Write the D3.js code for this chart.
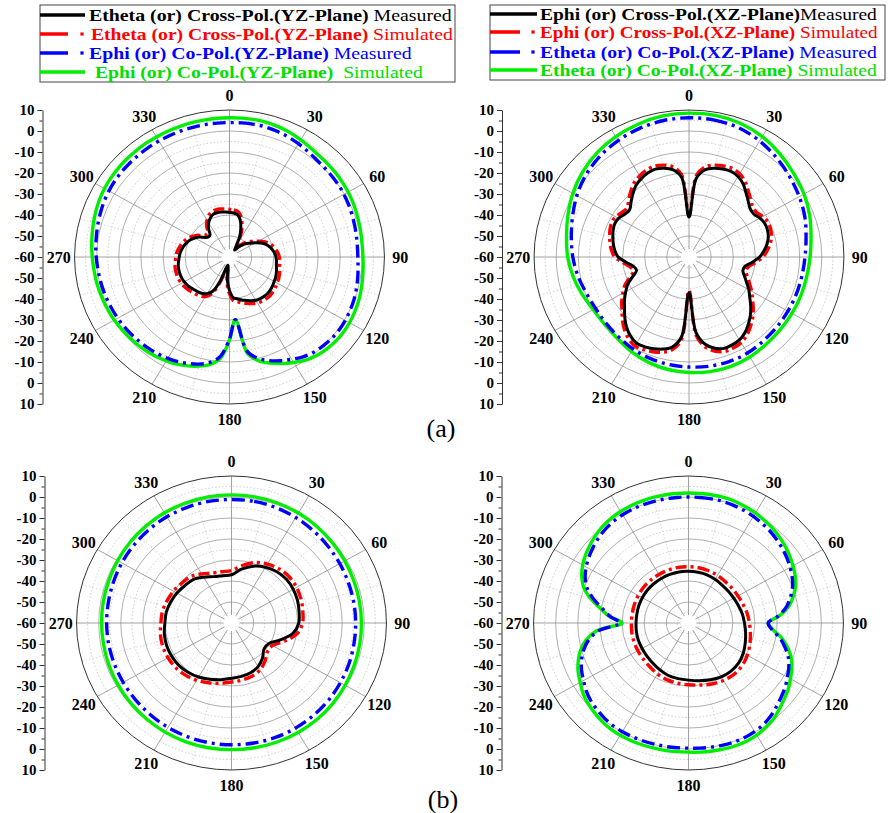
<!DOCTYPE html>
<html>
<head>
<meta charset="utf-8">
<script src="https://cdn.jsdelivr.net/npm/d3@7"></script>
<style>
  body { margin: 0; background: #fff; }
  svg { display: block; }
  text { font-family: "Liberation Serif", "Times New Roman", serif; }
</style>
</head>
<body>
<svg width="890" height="813"></svg>
<script>
// angle labels round each polar plot, and the dB labels on the side axis
const ANGLE_LABELS = [0, 30, 60, 90, 120, 150, 180, 210, 240, 270, 300, 330];
const AXIS_LABELS = ['10', '0', '-10', '-20', '-30', '-40', '-50', '-60', '-50', '-40', '-30', '-20', '-10', '0', '10'];

const LEGEND_A = [
  ['Etheta (or) Cross-Pol.(YZ-Plane)', ' Measured'],
  ['Etheta (or) Cross-Pol.(YZ-Plane)', ' Simulated'],
  ['Ephi (or) Co-Pol.(YZ-Plane)', ' Measured'],
  ['Ephi (or) Co-Pol.(YZ-Plane)', '  Simulated']
];
const LEGEND_B = [
  ['Ephi (or) Cross-Pol.(XZ-Plane)', 'Measured'],
  ['Ephi (or) Cross-Pol.(XZ-Plane)', ' Simulated'],
  ['Etheta (or) Co-Pol.(XZ-Plane)', ' Measured'],
  ['Etheta (or) Co-Pol.(XZ-Plane)', ' Simulated']
];

// values in dB, evenly spaced from 0 deg clockwise (72 values = 5 deg, 36 values = 10 deg)
// (a) YZ plane
const p1Black = [-38.8,-39.0,-39.5,-41.5,-45,-49,-54,-56,-54,-52,-50,-48.5,-46.5,-44.3,-42.5,-41.2,-40.3,-39.5,
  -39,-38.7,-38.5,-38,-37.5,-37,-36.7,-36.2,-35.8,-35.5,-35.6,-35.8,-36.2,-37,-38,-38.8,-39.8,-40.5,
  -44,-49,-56,-55,-48,-42,-39.8,-38.8,-38.2,-37.8,-37.2,-36.7,-36.4,-36.2,-36.2,-36.3,-36.5,-36.9,
  -37.3,-37.6,-38.2,-38.8,-39.6,-40.6,-41.9,-43.5,-45.5,-46.5,-46.3,-43.5,-41.2,-39.5,-38.4,-38.2,-38.3,-38.5];
const p1Red = [-37.3,-37.5,-38,-40,-43.5,-47.5,-52.5,-55,-53,-50.5,-48.5,-47,-45,-42.8,-41,-39.7,-38.8,-38,
  -37.5,-37.2,-37,-36.5,-36,-35.5,-35.2,-34.7,-34.3,-34,-34.1,-34.3,-34.7,-35.5,-36.5,-37.3,-38.3,-39,
  -42.5,-47.5,-55,-54,-46.5,-40.5,-38.3,-37.3,-36.7,-36.3,-35.7,-35.2,-34.9,-34.7,-34.7,-34.8,-35,-35.4,
  -35.8,-36.1,-36.7,-37.3,-38.1,-39.1,-40.4,-42,-44,-45,-44.8,-42,-39.7,-38,-36.9,-36.7,-36.8,-37];
const p1Blue = [4.0,4.1,4.1,4.0,3.6,3.0,2.3,1.5,0.8,0.4,0.2,0.0,-0.3,-0.7,-1.1,-1.5,-1.8,-2.0,
  -2.0,-1.7,-1.2,-0.7,-0.2,0.1,0.4,0.5,0.3,-0.2,-0.8,-2.0,-3.8,-5.5,-7.5,-10,-14.5,-30,
  -21,-12.5,-9.0,-7.2,-6.0,-5.0,-4.3,-3.7,-3.2,-2.8,-2.4,-2.0,-1.7,-1.4,-1.1,-0.8,-0.5,-0.2,
  0.2,0.6,1.0,1.5,2.0,2.5,2.9,3.2,3.4,3.5,3.6,3.7,3.8,3.8,3.9,3.9,4.0,4.0];
const p1Green = [6.3,6.4,6.4,6.2,5.8,5.2,4.4,3.6,3.0,2.7,2.5,2.2,1.9,1.5,1.1,0.7,0.4,0.2,
  0.3,0.6,1.0,1.5,2.0,2.3,2.6,2.7,2.5,2.0,1.3,0.0,-2.0,-4.0,-6.2,-8.8,-13.5,-30,
  -20.5,-11.5,-8.0,-6.2,-4.8,-3.7,-2.9,-2.2,-1.6,-1.1,-0.7,-0.3,0.1,0.4,0.7,1.0,1.3,1.6,
  2.0,2.5,3.0,3.6,4.2,4.8,5.2,5.5,5.7,5.8,5.9,6.0,6.0,6.1,6.1,6.2,6.2,6.3];

// (a) XZ plane
const p2Black = [-41,-22.5,-17.8,-16.2,-15.4,-15,-15.7,-17.4,-20,-22.2,-24,-24.3,-23,-22.2,-22.3,-22.9,-24.2,-26,
  -28.1,-31.3,-34.3,-34.8,-33.3,-31.3,-28.8,-26.5,-23.6,-20.8,-18.3,-16,-14.4,-13.8,-13.7,-15,-17.8,-24,
  -43,-22,-16.5,-14.6,-13.5,-12.8,-12.6,-14,-16.2,-19,-22,-24.4,-27,-29.5,-33,-35.5,-34.5,-31.5,
  -28,-26.4,-25.3,-24.4,-23.5,-22.9,-23.2,-24.5,-25,-23,-20.6,-18.3,-16.9,-15.9,-15.5,-16.2,-17.8,-22];
const p2Red = [-40,-21,-16.3,-14.7,-13.9,-13.5,-14.2,-15.9,-18.5,-20.7,-22.5,-22.8,-21.5,-20.7,-20.8,-21.4,-22.7,-24.5,
  -26.6,-29.8,-32.8,-33.3,-31.8,-29.8,-27.3,-25,-22.1,-19.3,-16.8,-14.5,-12.9,-12.3,-12.2,-13.5,-16.3,-22.5,
  -44,-20.5,-15,-13.1,-12,-11.3,-11.1,-12.5,-14.7,-17.5,-20.5,-22.9,-25.5,-28,-31.5,-34,-33,-30,
  -26.5,-24.9,-23.8,-22.9,-22,-21.4,-21.7,-23,-23.5,-21.5,-19.1,-16.8,-15.4,-14.4,-14,-14.7,-16.3,-20.5];
const p2Blue = [6.3,6.2,5.5,3.8,1.6,-0.6,-2.5,-4.3,-6.3,-7.6,-8.2,-8.4,-8.4,-8.2,-7.8,-7.2,-7.0,-7.2,
  -7.6,-8.0,-8.6,-9.4,-10.4,-11.0,-11.2,-10.5,-9.0,-7.5,-6.0,-4.0,-1.5,0.8,2.6,4.0,5.2,6.0];
const p2Green = [8.5,8.5,7.8,6.2,4.0,1.8,0.0,-2.0,-4.0,-5.3,-6.0,-6.2,-6.3,-6.2,-5.8,-5.0,-4.6,-4.6,
  -5.0,-5.6,-6.6,-8.0,-9.5,-10.2,-10.0,-8.5,-6.8,-5.2,-3.8,-1.8,0.6,2.8,4.7,6.2,7.3,8.2];

// (b) YZ plane
const p3Black = [-37,-34,-31.2,-29.3,-28.1,-27.6,-27.8,-28.3,-29,-29.6,-31.8,-36.5,-40.5,-40.8,-38.2,-36,-34.8,-34.2,
  -33.7,-32.6,-31.5,-30.3,-29.4,-28.8,-28.7,-28.8,-29.2,-29.9,-30.1,-30.8,-31.5,-32.4,-33,-34.8,-36.5,-37.1];
const p3Red = [-35,-32.2,-29.4,-27.6,-26.4,-25.9,-26.1,-26.6,-27.3,-27.9,-30,-34.6,-38.6,-38.8,-36.4,-34.2,-33,-32.4,
  -31.9,-30.8,-29.7,-28.5,-27.6,-27,-26.9,-27,-27.4,-28.1,-28.3,-29,-29.7,-30.6,-31.2,-33,-34.7,-35.2];
const p3Blue = [-1.2,-1.2,-1.5,-2.0,-2.6,-3.1,-3.5,-3.8,-3.9,-3.9,-3.8,-3.5,-3.2,-2.8,-2.5,-2.2,-2.0,-2.0,
  -2.0,-2.1,-2.3,-2.6,-3.0,-3.3,-3.5,-3.6,-3.6,-3.6,-3.5,-3.2,-2.8,-2.4,-2.0,-1.6,-1.4,-1.2];
const p3Green = [1.0,1.0,0.8,0.5,0.0,-0.5,-0.9,-1.2,-1.3,-1.3,-1.2,-1.0,-0.7,-0.3,0.0,0.2,0.3,0.3,
  0.3,0.3,0.2,0.0,-0.3,-0.6,-0.9,-1.1,-1.3,-1.3,-1.2,-1.0,-0.6,-0.2,0.2,0.6,0.8,1.0];

// (b) XZ plane
const p4Black = [-35.4,-35.5,-35.6,-36,-36.4,-36.5,-36.4,-36,-35.3,-34.7,-33.8,-32.7,-31.4,-30.4,-30.1,-30.4,-31.2,-32.1,
  -32.8,-33.1,-33.4,-34.2,-35,-35.5,-35.8,-35.9,-36.1,-36.3,-36.3,-36.1,-35.9,-35.7,-35.6,-35.5,-35.4,-35.3];
const p4Red = [-33.2,-33.3,-33.5,-33.8,-34.2,-34.3,-34.2,-33.8,-33.1,-32.5,-31.6,-30.5,-29.3,-28.4,-28.1,-28.4,-29.1,-30,
  -30.6,-30.9,-31.3,-32,-32.8,-33.3,-33.6,-33.8,-34,-34.2,-34.2,-34,-33.8,-33.5,-33.4,-33.3,-33.2,-33.1];
const p4Blue = [0.0,0.0,0.0,-0.1,-0.4,-0.8,-1.4,-2.1,-2.8,-3.7,-4.7,-5.8,-7.0,-8.3,-10,-12.3,-15,-19,
  -24,-22,-18,-14.8,-12,-10,-8.4,-6.7,-5.3,-3.8,-2.2,-1.0,-0.3,0.2,0.3,0.2,0.0,-0.2,
  -0.4,-0.4,-0.3,-0.3,-0.2,-0.2,-0.2,-0.4,-0.9,-1.6,-2.4,-3.6,-5.2,-6.7,-8.6,-11,-14.3,-19.5,
  -29,-24.5,-20.5,-15.5,-11.2,-8.5,-6.6,-5.1,-3.8,-2.6,-1.6,-0.9,-0.5,-0.2,-0.1,0.0,0.0,0.0];
const p4Green = [1.9,1.9,1.9,1.9,1.6,1.1,0.5,-0.3,-1.0,-2.0,-3.0,-4.2,-5.5,-6.8,-8.5,-11,-14,-18.5,
  -24,-21.5,-17,-13.5,-10.5,-8.5,-6.8,-5.0,-3.6,-2.0,-0.3,0.8,1.6,2.1,2.2,2.1,1.9,1.7,
  1.5,1.5,1.6,1.6,1.7,1.7,1.7,1.5,1.0,0.2,-0.6,-1.8,-3.5,-5.0,-7.0,-9.5,-13,-18.5,
  -30,-24,-19.5,-14,-9.5,-6.8,-4.8,-3.3,-2.0,-0.8,0.2,0.9,1.3,1.6,1.8,1.9,1.9,1.9];

const R = 147;        // radius of the 10 dB ring (vertical)
const KX = 1.054;     // the figure is a little stretched sideways
const svg = d3.select('svg');

const r = d3.scaleLinear().domain([-60, 10]).range([0, R]);

const STYLES = {
  green: { color: '#00ee00', width: 3.4, dash: null },
  blue:  { color: '#0000ff', width: 3.4, dash: '13,5,3,5' },
  red:   { color: '#ff0000', width: 3.4, dash: '11,4,3,4' },
  black: { color: '#000000', width: 3, dash: null }
};

const PLOTS = [
  { cx: 229.5, cy: 257, series: [['green', p1Green], ['blue', p1Blue], ['red', p1Red], ['black', p1Black]] },
  { cx: 689,   cy: 257, series: [['green', p2Green], ['blue', p2Blue], ['red', p2Red], ['black', p2Black]] },
  { cx: 231.5, cy: 623, series: [['green', p3Green], ['blue', p3Blue], ['red', p3Red], ['black', p3Black]] },
  { cx: 688.5, cy: 623, series: [['green', p4Green], ['blue', p4Blue], ['red', p4Red], ['black', p4Black]] }
];

function pt(p, deg, db) {
  const a = deg * Math.PI / 180;
  const rr = r(db);
  return [p.cx + rr * Math.sin(a) * KX, p.cy - rr * Math.cos(a)];
}

const line = d3.line().curve(d3.curveCatmullRomClosed.alpha(0.5));

function drawPlot(p) {
  const g = svg.append('g');

  // dotted half rings
  g.selectAll('.minor-ring')
    .data(d3.range(-55, 10, 10))
    .enter()
    .append('ellipse')
    .attr('cx', p.cx).attr('cy', p.cy)
    .attr('rx', d => r(d) * KX).attr('ry', d => r(d))
    .attr('fill', 'none').attr('stroke', '#b8b8b8')
    .attr('stroke-width', 0.7).attr('stroke-dasharray', '1.5,2');

  // dotted spokes between the labelled ones
  g.selectAll('.minor-spoke')
    .data(d3.range(15, 360, 30))
    .enter()
    .append('line')
    .attr('x1', d => pt(p, d, -40)[0]).attr('y1', d => pt(p, d, -40)[1])
    .attr('x2', d => pt(p, d, 10)[0]).attr('y2', d => pt(p, d, 10)[1])
    .attr('stroke', '#c4c4c4').attr('stroke-width', 0.7).attr('stroke-dasharray', '1.5,2');

  g.selectAll('.ring')
    .data(d3.range(-50, 10, 10))
    .enter()
    .append('ellipse')
    .attr('cx', p.cx).attr('cy', p.cy)
    .attr('rx', d => r(d) * KX).attr('ry', d => r(d))
    .attr('fill', 'none').attr('stroke', '#9a9a9a').attr('stroke-width', 0.8);

  g.selectAll('.spoke')
    .data(ANGLE_LABELS)
    .enter()
    .append('line')
    .attr('x1', p.cx).attr('y1', p.cy)
    .attr('x2', d => pt(p, d, 10)[0]).attr('y2', d => pt(p, d, 10)[1])
    .attr('stroke', '#8a8a8a').attr('stroke-width', 0.8);

  g.append('ellipse')
    .attr('cx', p.cx).attr('cy', p.cy)
    .attr('rx', r(10) * KX).attr('ry', r(10))
    .attr('fill', 'none').attr('stroke', '#333').attr('stroke-width', 1);

  g.append('circle')
    .attr('cx', p.cx).attr('cy', p.cy).attr('r', 8).attr('fill', '#fff');

  p.series.forEach(([name, values]) => {
    const st = STYLES[name];
    const step = 360 / values.length;
    g.append('path')
      .attr('d', line(values.map((v, i) => pt(p, i * step, v))))
      .attr('fill', 'none')
      .attr('stroke', st.color)
      .attr('stroke-width', st.width)
      .attr('stroke-dasharray', st.dash)
      .attr('stroke-linejoin', 'round');
  });

  // angle labels
  g.selectAll('.alabel')
    .data(ANGLE_LABELS)
    .enter()
    .append('text')
    .attr('x', d => pt(p, d, 10)[0] + 15 * Math.sin(d * Math.PI / 180) * KX)
    .attr('y', d => pt(p, d, 10)[1] - 15 * Math.cos(d * Math.PI / 180))
    .attr('text-anchor', 'middle')
    .attr('dy', '0.35em')
    .attr('font-size', 16)
    .attr('font-weight', 'bold')
    .text(d => d);

  // side dB axis
  const y = d3.scaleLinear().domain([0, AXIS_LABELS.length - 1]).range([p.cy - R, p.cy + R]);
  const ax = p.cx - 187;
  g.append('g')
    .attr('transform', `translate(${ax},0)`)
    .call(d3.axisLeft(y).tickValues(d3.range(0.5, 14, 1)).tickSize(3).tickFormat(''))
    .call(s => s.select('.domain').remove())
    .selectAll('line').attr('stroke', '#333');
  const axis = g.append('g')
    .attr('transform', `translate(${ax},0)`)
    .call(d3.axisLeft(y).tickValues(d3.range(0, 15)).tickSize(5).tickSizeOuter(0).tickFormat(i => AXIS_LABELS[i]));
  axis.select('.domain').attr('stroke', '#333');
  axis.selectAll('line').attr('stroke', '#333');
  axis.selectAll('text')
    .attr('font-family', '"Liberation Serif", serif')
    .attr('font-size', 15)
    .attr('font-weight', 'bold')
    .attr('fill', '#000');
}

PLOTS.forEach(drawPlot);

function drawLegend(items, box, rows, sw) {
  const g = svg.append('g');
  g.append('rect')
    .attr('x', box.x).attr('y', box.y).attr('width', box.w).attr('height', box.h)
    .attr('fill', '#fff').attr('stroke', '#444').attr('stroke-width', 1);
  const names = ['black', 'red', 'blue', 'green'];
  items.forEach((it, i) => {
    const st = STYLES[names[i]];
    const yy = rows[i];
    if (st.dash) {
      g.append('line').attr('x1', box.x).attr('x2', sw.dashEnd).attr('y1', yy).attr('y2', yy)
        .attr('stroke', st.color).attr('stroke-width', 3.5);
      g.append('rect').attr('x', sw.dot - 1.6).attr('y', yy - 1.6).attr('width', 3.2).attr('height', 3.2)
        .attr('fill', st.color);
    } else {
      g.append('line').attr('x1', box.x).attr('x2', sw.end).attr('y1', yy).attr('y2', yy)
        .attr('stroke', st.color).attr('stroke-width', 3.5);
    }
    const x0 = sw.text[i];
    const t = g.append('text')
      .attr('x', x0).attr('y', yy).attr('dy', '0.35em')
      .attr('font-size', 16)
      .attr('fill', st.color === '#00ee00' ? '#00e000' : st.color)
      .attr('xml:space', 'preserve');
    t.append('tspan').attr('font-weight', 'bold').text(it[0]);
    t.append('tspan').text(it[1]);
    // the original legend text is drawn wider than the font, stretch it to the same span
    const len = t.node().getComputedTextLength();
    const k = (sw.ends[i] - x0) / len;
    t.attr('transform', `translate(${x0},0) scale(${k},1) translate(${-x0},0)`);
  });
}

drawLegend(LEGEND_A, { x: 40, y: 5, w: 415, h: 77 }, [15, 34, 53, 72],
  { end: 85, dashEnd: 68, dot: 82, text: [89, 91, 89, 95], ends: [452, 453, 412, 423] });
drawLegend(LEGEND_B, { x: 490, y: 5, w: 395, h: 75 }, [14, 32, 52, 70],
  { end: 537, dashEnd: 520, dot: 533, text: [540, 540, 540, 540], ends: [877, 878, 877, 877] });

svg.append('text').attr('x', 441).attr('y', 437).attr('text-anchor', 'middle')
  .attr('font-size', 26).text('(a)');
svg.append('text').attr('x', 443).attr('y', 808).attr('text-anchor', 'middle')
  .attr('font-size', 26).text('(b)');
</script>
</body>
</html>
